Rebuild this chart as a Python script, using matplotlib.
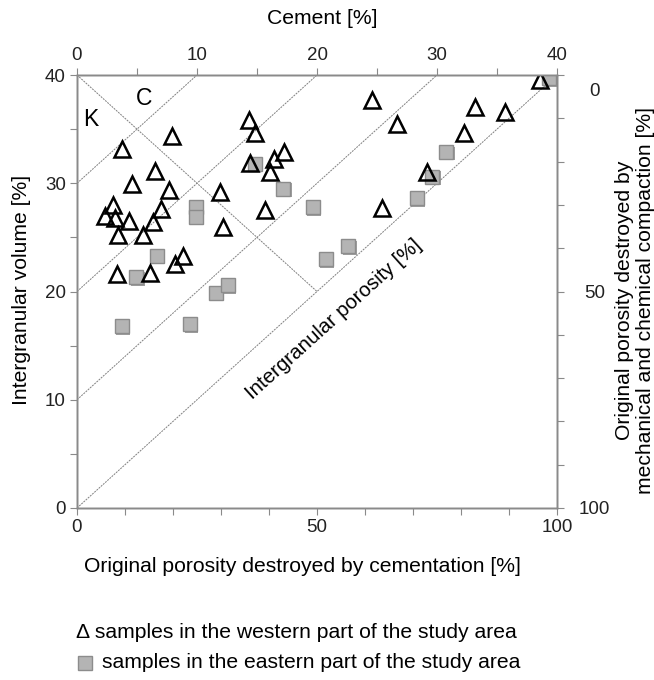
import matplotlib
matplotlib.use('Agg')
import matplotlib.pyplot as plt
from matplotlib.lines import Line2D
import matplotlib.patheffects as pe
import matplotlib.transforms as mtransforms

plt.rcParams['font.family'] = ['Liberation Sans', 'DejaVu Sans']

# Western samples (triangles): x = original porosity destroyed by cementation [%], y = IGV [%]
west_x = [9.3, 19.8, 16.3, 11.4, 19.2, 7.6, 17.6, 5.8, 7.9, 10.9, 15.9, 8.5, 13.8,
          8.3, 15.2, 20.4, 22.1, 35.8, 37.0, 36.0, 41.1, 43.1, 40.2, 29.8, 39.1,
          30.5, 61.5, 66.7, 83.0, 89.2, 96.5, 80.6, 73.0, 63.5]
west_y = [33.2, 34.4, 31.1, 29.9, 29.4, 28.0, 27.6, 27.0, 26.8, 26.5, 26.4, 25.2, 25.2,
          21.6, 21.7, 22.5, 23.3, 35.8, 34.6, 31.9, 32.2, 32.9, 31.0, 29.2, 27.5,
          26.0, 37.7, 35.5, 37.0, 36.6, 39.5, 34.6, 31.0, 27.7]

# Eastern samples (squares)
east_x = [12.3, 16.6, 9.3, 23.5, 28.9, 31.4, 24.7, 24.7, 37.0, 42.9, 49.1, 51.8,
          56.5, 70.8, 74.0, 76.9, 98.4]
east_y = [21.3, 23.3, 16.8, 17.0, 19.9, 20.6, 27.8, 26.9, 31.8, 29.5, 27.8, 23.0,
          24.2, 28.6, 30.6, 32.9, 39.7]

# intergranular porosity isolines (IGV - cement = k)
porosity_levels = [0, 10, 20, 30]
bottom_ticks = [0, 50, 100]
top_ticks = [0, 10, 20, 30, 40]
left_ticks = [0, 10, 20, 30, 40]
right_ticks = [0, 50, 100]

W, H = 654, 680
fig = plt.figure(figsize=(W / 100, H / 100), dpi=100)
L, R, T, B = 77, 557, 75, 508
ax = fig.add_axes([L / W, 1 - B / H, (R - L) / W, (B - T) / H])
ax.set_xlim(0, 100)
ax.set_ylim(0, 40)

FS = 15.2
spine_col = '#8a8a8a'
line_col = '#808080'
for s in ax.spines.values():
    s.set_color(spine_col)
    s.set_linewidth(1.0)

# cement / porosity lines
for k in porosity_levels:
    xe = (40 - k) / 0.4
    ax.plot([0, xe], [k, 40], color=line_col, lw=0.7, ls=(0, (2, 1)), zorder=1)
# compaction/cementation divide
ax.plot([0, 50], [40, 20], color=line_col, lw=0.7, ls=(0, (2, 1)), zorder=1)

# data
sq = ax.plot(east_x, east_y, 's', ms=10, mfc='#b4b4b4', mec='#8c8c8c', mew=1.0,
             ls='none', zorder=3)[0]
sq.set_path_effects([pe.SimplePatchShadow(offset=(1.2, -1.2), shadow_rgbFace='#777777', alpha=0.7), pe.Normal()])
ax.plot(west_x, west_y, '^', ms=11.5, mfc='none', mec='black', mew=1.8, ls='none', zorder=4)

ax.text(2.8, 35.9, 'K', fontsize=16.5, ha='center', va='center')
ax.text(14, 37.8, 'C', fontsize=16.5, ha='center', va='center')
ax.text(53.5, 17.4, 'Intergranular porosity [%]', fontsize=14.8, rotation=42,
        ha='center', va='center', rotation_mode='anchor')

ax.set_xticks(range(0, 101, 10))
ax.set_xticklabels([str(v) if v in bottom_ticks else '' for v in range(0, 101, 10)])
ax.set_yticks(range(0, 41, 5))
ax.set_yticklabels([str(v) if v in left_ticks else '' for v in range(0, 41, 5)])
ax.tick_params(direction='out', length=5, width=0.8, color=spine_col,
               labelsize=13.5, labelcolor='#222222', pad=3)

axt = ax.twiny()
axt.set_xlim(0, 40)
axt.set_xticks(range(0, 41, 5))
axt.set_xticklabels([str(v) if v in top_ticks else '' for v in range(0, 41, 5)])
axt.tick_params(direction='out', length=5, width=0.8, color=spine_col,
                labelsize=13.5, labelcolor='#222222', pad=3)

axr = ax.twinx()
axr.set_ylim(100, 0)
axr.set_yticks(range(0, 101, 10))
axr.set_yticklabels([str(v) if v in right_ticks else '' for v in range(0, 101, 10)])
axr.tick_params(direction='out', length=5, width=0.8, color=spine_col,
                labelsize=13.5, labelcolor='#222222', pad=22)
for lab in axr.get_yticklabels():
    lab.set_horizontalalignment('center')
# the "0" label sits a little below its tick in the original
axr.get_yticklabels()[0].set_transform(
    axr.get_yticklabels()[0].get_transform()
    + mtransforms.ScaledTranslation(0, -15 / 100, fig.dpi_scale_trans))
for a in (axt, axr):
    for s in a.spines.values():
        s.set_color(spine_col)
        s.set_linewidth(1.0)

# axis titles
fig.text(322 / W, 1 - 18 / H, 'Cement [%]', fontsize=FS, ha='center', va='center')
fig.text(302 / W, 1 - 567 / H, 'Original porosity destroyed by cementation [%]',
         fontsize=FS, ha='center', va='center')
fig.text(22 / W, 1 - 290 / H, 'Intergranular volume [%]', fontsize=FS,
         rotation=90, ha='center', va='center')
fig.text(635 / W, 1 - 300 / H,
         'Original porosity destroyed by\nmechanical and chemical compaction [%]',
         fontsize=FS, rotation=90, ha='center', va='center', multialignment='center',
         linespacing=1.1)

# legend
fig.text(76 / W, 1 - 633 / H, 'Δ samples in the western part of the study area',
         fontsize=FS, ha='left', va='center')
fig.add_artist(Line2D([85 / W], [1 - 663 / H], marker='s', ms=10, mfc='#b4b4b4',
                      mec='#8c8c8c', mew=1.0, ls='none', transform=fig.transFigure))
fig.text(102 / W, 1 - 663 / H, 'samples in the eastern part of the study area',
         fontsize=FS, ha='left', va='center')

fig.savefig('out.png', dpi=100)
